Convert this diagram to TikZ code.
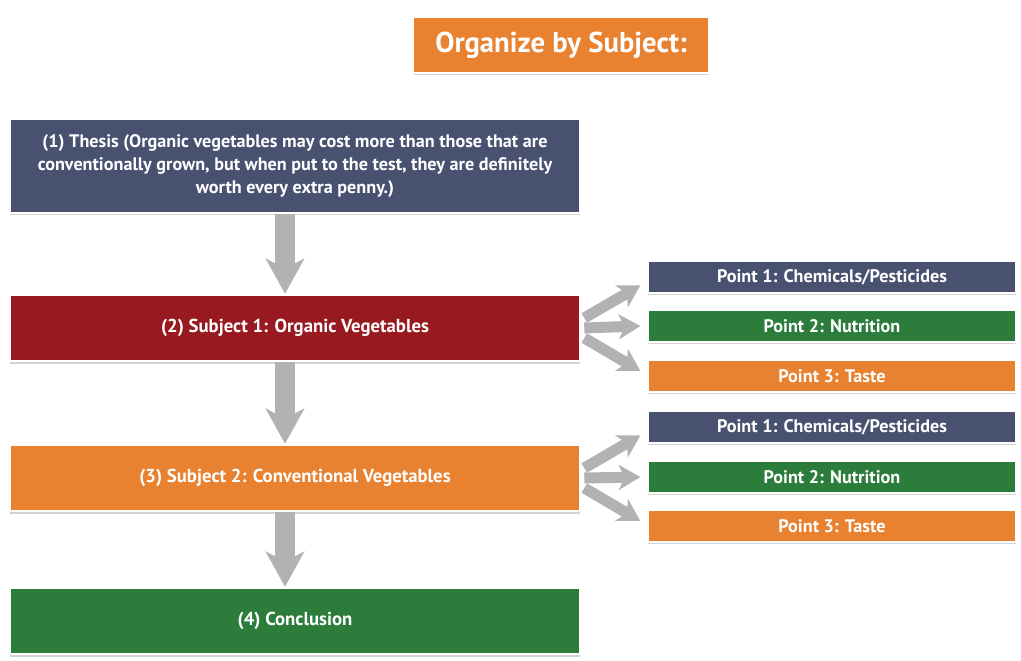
\documentclass[tikz,border=0pt]{standalone}
\usepackage{fontspec}
\setmainfont{PT Sans}
\usetikzlibrary{arrows.meta,shadows}

\definecolor{slate}{RGB}{72,82,112}
\definecolor{wine}{RGB}{152,26,32}
\definecolor{tangerine}{RGB}{232,130,48}
\definecolor{leaf}{RGB}{44,124,60}

\begin{document}
\begin{tikzpicture}[x=0.03cm, y=-0.03cm,
                        box/.style={draw=white, line width=1.6pt, text=white, align=center,
                                    drop shadow={shadow xshift=0pt, shadow yshift=-2pt, opacity=0.35}},
                        big box/.style={box, minimum width=17.1cm, minimum height=2cm,
                                        font=\bfseries\fontsize{16}{19}\selectfont},
                        point box/.style={box, minimum width=11.04cm, minimum height=0.96cm,
                                          font=\bfseries\fontsize{15.5}{18}\selectfont},
                        down arrow/.style={line width=0.6cm, draw=gray!60,
                                           -{Stealth[length=1.05cm, width=1.15cm, inset=0.3cm]}},
                        side arrow/.style={line width=0.33cm, draw=gray!60,
                                           -{Stealth[length=0.65cm, width=0.75cm, inset=0.18cm]}}]

      \useasboundingbox (0,0) rectangle (1021,660);

      \node[box, fill=tangerine, minimum width=8.85cm, minimum height=1.68cm,
            font=\bfseries\fontsize{24.5}{28}\selectfont] (title) at (561,45) {Organize by Subject:};

      \node[big box, fill=slate, minimum height=2.8cm,
            font=\bfseries\fontsize{15.5}{20}\selectfont] (thesis) at (295,166)
          {(1) Thesis (Organic vegetables may cost more than those that are\\
           conventionally grown, but when put to the test, they are definitely\\
           worth every extra penny.)};
      \node[big box, fill=wine] (subj1) at (295,328) {(2) Subject 1: Organic Vegetables};
      \node[big box, fill=tangerine] (subj2) at (295,478) {(3) Subject 2: Conventional Vegetables};
      \node[big box, fill=leaf] (concl) at (295,621) {(4) Conclusion};

      \node[point box, fill=slate] (p11) at (832,277) {Point 1: Chemicals/Pesticides};
      \node[point box, fill=leaf] (p12) at (832,326) {Point 2: Nutrition};
      \node[point box, fill=tangerine] (p13) at (832,376) {Point 3: Taste};

      \node[point box, fill=slate] (p21) at (832,427) {Point 1: Chemicals/Pesticides};
      \node[point box, fill=leaf] (p22) at (832,477) {Point 2: Nutrition};
      \node[point box, fill=tangerine] (p23) at (832,526) {Point 3: Taste};

      \draw[down arrow] ([xshift=-0.3cm]thesis.south) -- ([xshift=-0.3cm]subj1.north);
      \draw[down arrow] ([xshift=-0.3cm]subj1.south) -- ([xshift=-0.3cm]subj2.north);
      \draw[down arrow] ([xshift=-0.3cm]subj2.south) -- ([xshift=-0.3cm]concl.north);

      \draw[side arrow] ([xshift=0.1cm,yshift=0.3cm]subj1.east) -- ([xshift=-0.2cm,yshift=-0.25cm]p11.west);
      \draw[side arrow] ([xshift=0.1cm]subj1.east) -- ([xshift=-0.2cm]p12.west);
      \draw[side arrow] ([xshift=0.1cm,yshift=-0.3cm]subj1.east) -- ([xshift=-0.2cm,yshift=0.15cm]p13.west);

      \draw[side arrow] ([xshift=0.1cm,yshift=0.3cm]subj2.east) -- ([xshift=-0.2cm,yshift=-0.25cm]p21.west);
      \draw[side arrow] ([xshift=0.1cm]subj2.east) -- ([xshift=-0.2cm]p22.west);
      \draw[side arrow] ([xshift=0.1cm,yshift=-0.3cm]subj2.east) -- ([xshift=-0.2cm,yshift=0.15cm]p23.west);

    \end{tikzpicture}
\end{document}
